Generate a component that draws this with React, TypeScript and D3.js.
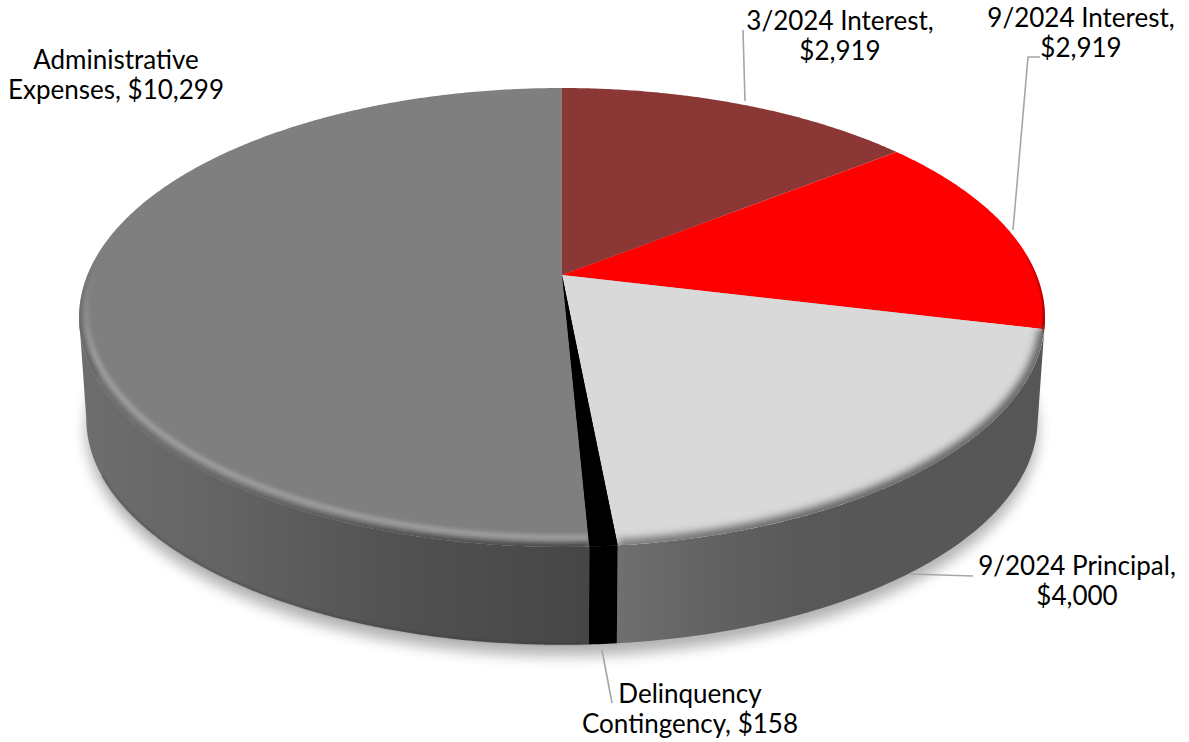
import React from "react";
import * as d3 from "d3";

const sliceNames = ["3/2024 Interest", "9/2024 Interest", "9/2024 Principal", "Delinquency Contingency", "Administrative Expenses"];
const sliceValues = [2919, 2919, 4000, 158, 10299];
const sliceColors = ["#8a3736", "#ff0000", "#d9d9d9", "#000000", "#7f7f7f"];
const labelLines = [
  ["3/2024 Interest,", "$2,919"],
  ["9/2024 Interest,", "$2,919"],
  ["9/2024 Principal,", "$4,000"],
  ["Delinquency", "Contingency, $158"],
  ["Administrative", "Expenses, $10,299"],
];
const labelAnchors = [
  { x: 840, y: 30 },
  { x: 1081, y: 27 },
  { x: 1077, y: 575 },
  { x: 690, y: 703 },
  { x: 116, y: 69 },
];
const leaderPaths: [number, number][][] = [
  [[743, 30], [745, 101]],
  [[1040, 57], [1028, 57], [1013, 230]],
  [[973, 576], [910, 574]],
  [[602, 650], [612, 703]],
];

const W = 1189, H = 742;
const CX = 562, CY = 275, A = 474.6, B = 221.6, K = 0.185;
const DEPTH_Y = 102, DEPTH_S = 0.985;

const project = (theta: number, r = 1, dy = 0, s = 1): [number, number] => {
  const u = r * Math.sin(theta), v = -r * Math.cos(theta);
  const d = 1 - K * v;
  return [CX + (s * A * u) / d, CY + dy + (s * B * v) / d];
};
const sample = (a: number, b: number, r = 1, dy = 0, s = 1) => {
  const n = Math.max(2, Math.ceil(Math.abs(b - a) * 120));
  return d3.range(n + 1).map((i) => project(a + ((b - a) * i) / n, r, dy, s));
};
const line = d3.line<[number, number]>();
const closed = (pts: [number, number][]) => (line(pts) as string) + "Z";

const arcs = d3.pie<number>().sort(null).startAngle(0).endAngle(2 * Math.PI)(sliceValues);
const TAU = 2 * Math.PI;
const deg = (d: number) => (d * Math.PI) / 180;
// angle of the leftmost point of the projected ellipse: the side wall's tangent
const LEFT_TANGENT = TAU - Math.acos(-K);

export default function App() {
  const [brown, red, light, black, gray] = arcs;
  const wholeTop = closed(sample(0, TAU));
  const wholeBottom = closed(sample(0, TAU, 1, DEPTH_Y, DEPTH_S));
  const side = (a: number, b: number) =>
    closed([...sample(a, b), ...sample(a, b, 1, DEPTH_Y, DEPTH_S).reverse()]);
  const slicePath = (arc: d3.PieArcDatum<number>) => closed([[CX, CY], ...sample(arc.startAngle, arc.endAngle)]);
  return (
    <svg width={W} height={H} style={{ position: "absolute", left: 0, top: 0, display: "block" }} fontFamily="Lato" fontSize={26}>
      <defs>
        <filter id="shadow" x="-10%" y="-10%" width="120%" height="130%"><feGaussianBlur stdDeviation="7" /></filter>
        <filter id="b1" filterUnits="userSpaceOnUse" x="0" y="0" width={W} height={H}><feGaussianBlur stdDeviation="2" /></filter>
        <filter id="b2" filterUnits="userSpaceOnUse" x="0" y="0" width={W} height={H}><feGaussianBlur stdDeviation="4" /></filter>
        <filter id="b3" filterUnits="userSpaceOnUse" x="0" y="0" width={W} height={H}><feGaussianBlur stdDeviation="0.9" /></filter>
        <clipPath id="topClip"><path d={wholeTop} /></clipPath>
        <linearGradient id="graySide" gradientUnits="userSpaceOnUse" x1={79} x2={587} y1={0} y2={0}>
          <stop offset="0" stopColor="#6e6e6e" />
          <stop offset="0.3" stopColor="#636363" />
          <stop offset="0.6" stopColor="#535353" />
          <stop offset="1" stopColor="#464646" />
        </linearGradient>
        <linearGradient id="lightSide" gradientUnits="userSpaceOnUse" x1={615} x2={1045} y1={0} y2={0}>
          <stop offset="0" stopColor="#707070" />
          <stop offset="0.2" stopColor="#636363" />
          <stop offset="0.45" stopColor="#585858" />
          <stop offset="1" stopColor="#565656" />
        </linearGradient>
        <linearGradient id="rimHigh" gradientUnits="userSpaceOnUse" x1={0} x2={0} y1={265} y2={360}>
          <stop offset="0" stopColor="#9a9a9a" stopOpacity="0" />
          <stop offset="1" stopColor="#a8a8a8" stopOpacity="1" />
        </linearGradient>
        <linearGradient id="rimDark" gradientUnits="userSpaceOnUse" x1={0} x2={0} y1={250} y2={330}>
          <stop offset="0" stopColor="#636363" stopOpacity="0" />
          <stop offset="1" stopColor="#666666" stopOpacity="1" />
        </linearGradient>
        <linearGradient id="rimRed" gradientUnits="userSpaceOnUse" x1={0} x2={0} y1={225} y2={325}>
          <stop offset="0" stopColor="#800000" stopOpacity="0" />
          <stop offset="1" stopColor="#700000" stopOpacity="1" />
        </linearGradient>
      </defs>

      <path d={wholeBottom} fill="#000" opacity={0.3} filter="url(#shadow)" transform="translate(0,11)" />

      <path d={side(light.startAngle, light.endAngle)} fill="url(#lightSide)" />
      <path d={side(gray.startAngle, LEFT_TANGENT)} fill="url(#graySide)" />
      <path d={side(black.startAngle, black.endAngle)} fill="#000" />
      <path d={line(sample(gray.startAngle, deg(245), 1, DEPTH_Y - 1, DEPTH_S)) as string} fill="none" stroke="#2e2e2e" strokeWidth={1.4} opacity={0.4} filter="url(#b3)" />

      {arcs.map((arc, i) => (
        <path key={sliceNames[i]} d={slicePath(arc)} fill={sliceColors[i]} />
      ))}

      <g clipPath="url(#topClip)">
        <path d={line(sample(deg(85), red.endAngle + 0.02)) as string} fill="none" stroke="url(#rimRed)" strokeWidth={3} filter="url(#b3)" />
        <path d={line(sample(light.startAngle, light.endAngle)) as string} fill="none" stroke="url(#lightSide)" strokeWidth={11} filter="url(#b2)" />
        <path d={line(sample(gray.startAngle, deg(250))) as string} fill="none" stroke="url(#graySide)" strokeWidth={7} filter="url(#b1)" />
        <path d={line(sample(deg(245), deg(290))) as string} fill="none" stroke="url(#rimDark)" strokeWidth={7} filter="url(#b1)" />
        <path d={line(sample(gray.startAngle, deg(282), 0.986, -5)) as string} fill="none" stroke="url(#rimHigh)" strokeWidth={4} filter="url(#b1)" />
      </g>
      <path d={slicePath(black)} fill="#000" />

      {leaderPaths.map((pts, i) => (
        <path key={i} d={line(pts as [number, number][]) as string} fill="none" stroke="#a6a6a6" strokeWidth={1.6} />
      ))}

      {labelLines.map((lines, i) => (
        <text key={sliceNames[i]} textAnchor="middle" fill="#000">
          {lines.map((t, j) => (
            <tspan key={t} x={labelAnchors[i].x} y={labelAnchors[i].y + j * 30}>{t}</tspan>
          ))}
        </text>
      ))}
    </svg>
  );
}
